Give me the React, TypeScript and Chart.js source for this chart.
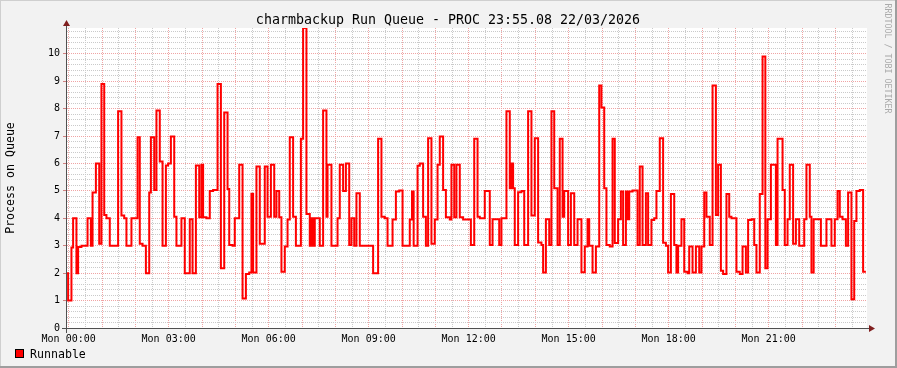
import React, { useEffect, useRef } from 'react';
import { Chart, registerables } from 'chart.js';

Chart.register(...registerables);

const TITLE = 'charmbackup Run Queue - PROC 23:55.08 22/03/2026';
const Y_TITLE = 'Process on Queue';
const SERIES_NAME = 'Runnable';
const WATERMARK = 'RRDTOOL / TOBI OETIKER';
const DAY = 'Mon';

// x-axis: minutes since Mon 00:00 (window starts just before midnight)
const X_MIN = -3;
const X_MAX = 1437;
const Y_MAX = 10.94;

// minutes at which the run-queue value changes
const times = [
  -3, -1, 5, 8, 14, 17, 23, 34,
  40, 43, 49, 55, 59, 64, 68, 74,
  89, 95, 100, 104, 113, 124, 128, 133,
  139, 145, 148, 154, 158, 164, 169, 175,
  179, 184, 190, 194, 203, 209, 218, 223,
  229, 235, 239, 242, 248, 254, 260, 268,
  274, 280, 286, 289, 295, 299, 307, 313,
  319, 325, 329, 332, 338, 344, 353, 358,
  364, 370, 374, 379, 383, 389, 394, 398,
  404, 409, 418, 422, 428, 434, 437, 440,
  443, 452, 458, 464, 466, 473, 484, 488,
  494, 499, 505, 509, 514, 518, 524, 548,
  557, 563, 569, 574, 583, 589, 595, 601,
  614, 618, 621, 628, 632, 638, 643, 647,
  653, 659, 664, 668, 674, 679, 686, 689,
  694, 698, 704, 710, 724, 730, 736, 740,
  749, 758, 763, 775, 779, 788, 794, 797,
  800, 803, 809, 815, 820, 827, 833, 839,
  845, 851, 854, 859, 865, 869, 874, 880,
  884, 889, 892, 899, 904, 910, 916, 923,
  929, 934, 937, 943, 949, 955, 959, 964,
  968, 974, 979, 983, 989, 994, 998, 1003,
  1006, 1009, 1015, 1024, 1028, 1033, 1039, 1043,
  1049, 1054, 1058, 1064, 1070, 1075, 1079, 1084,
  1090, 1094, 1097, 1103, 1108, 1114, 1117, 1123,
  1129, 1135, 1139, 1144, 1148, 1154, 1159, 1165,
  1169, 1174, 1178, 1184, 1189, 1193, 1202, 1208,
  1213, 1219, 1223, 1229, 1234, 1238, 1244, 1249,
  1254, 1258, 1264, 1273, 1276, 1285, 1289, 1294,
  1298, 1304, 1309, 1315, 1324, 1328, 1334, 1337,
  1341, 1354, 1364, 1373, 1379, 1384, 1388, 1393,
  1399, 1403, 1409, 1414, 1418, 1424, 1430, 1435,
];

// run-queue value from that minute on
const values = [
  2.0, 1.0, 2.94, 4.0, 2.0, 2.95, 3.0, 4.0,
  3.0, 4.94, 6.0, 3.07, 8.9, 4.12, 4.0, 3.0,
  7.9, 4.1, 4.0, 3.0, 4.0, 6.96, 3.07, 3.0,
  2.0, 4.94, 6.96, 5.03, 7.93, 6.07, 3.0, 5.93,
  6.0, 6.98, 4.06, 3.0, 4.0, 2.0, 3.97, 2.0,
  5.93, 4.04, 5.95, 4.04, 4.0, 5.0, 5.03, 8.9,
  2.18, 7.86, 5.07, 3.03, 3.0, 4.0, 5.95, 1.08,
  1.97, 2.02, 4.9, 2.02, 5.89, 3.07, 5.89, 4.06,
  5.95, 4.06, 5.0, 4.04, 2.05, 2.97, 3.96, 6.96,
  4.06, 3.0, 6.9, 10.94, 4.16, 3.0, 4.0, 3.0,
  4.0, 3.0, 7.93, 4.06, 5.95, 3.0, 4.0, 5.95,
  5.0, 6.0, 3.03, 4.0, 3.0, 4.91, 3.0, 2.0,
  6.9, 4.06, 4.0, 3.0, 3.96, 4.98, 5.01, 3.0,
  3.96, 4.98, 3.0, 5.92, 6.0, 4.06, 3.0, 6.92,
  3.07, 3.96, 5.95, 6.98, 5.03, 4.04, 3.96, 5.95,
  4.04, 5.95, 4.04, 3.96, 3.03, 6.9, 4.06, 4.0,
  5.0, 3.03, 3.97, 3.03, 4.0, 7.9, 5.1, 6.0,
  5.1, 3.03, 4.95, 5.0, 3.03, 7.9, 4.1, 6.92,
  3.12, 3.03, 2.02, 3.97, 3.03, 7.9, 5.1, 3.03,
  6.9, 4.06, 5.0, 3.03, 4.91, 3.03, 3.97, 2.03,
  2.97, 3.97, 3.0, 2.02, 2.97, 8.84, 8.04, 5.1,
  3.03, 2.97, 6.9, 3.1, 3.97, 4.98, 3.03, 4.98,
  3.97, 4.98, 5.01, 3.03, 5.89, 3.03, 4.91, 3.03,
  3.94, 4.0, 5.0, 6.92, 3.11, 3.0, 2.02, 4.89,
  3.03, 2.02, 3.0, 3.97, 2.05, 2.0, 2.97, 2.02,
  2.97, 2.02, 2.97, 4.94, 4.06, 3.03, 8.84, 4.12,
  5.95, 2.09, 1.97, 4.89, 4.06, 4.0, 2.05, 1.97,
  2.97, 2.02, 3.94, 3.97, 3.03, 2.02, 4.89, 9.9,
  2.18, 3.97, 5.95, 3.03, 6.9, 5.03, 3.03, 3.97,
  5.95, 3.07, 3.97, 3.0, 3.97, 5.95, 4.06, 2.02,
  3.97, 3.0, 3.97, 3.0, 3.97, 5.0, 4.06, 3.97,
  3.0, 4.94, 1.05, 3.9, 5.0, 5.03, 2.05, 2.05,
];

// labelled x positions (minutes) and their texts
const xLabelMinutes = [0, 180, 360, 540, 720, 900, 1080, 1260];
const xLabelTexts = ['00:00', '03:00', '06:00', '09:00', '12:00', '15:00', '18:00', '21:00'];

const MONO = '"DejaVu Sans Mono", monospace';
const MINOR_GRID = '#cacaca';
const MAJOR_GRID = '#f0a4a4';

export default function App() {
  const ref = useRef<HTMLCanvasElement | null>(null);

  useEffect(() => {
    const canvas = ref.current;
    if (!canvas) return;
    const points = times.map((t, i) => ({ x: t, y: values[i] }));
    const isInt = (v: number) => Math.abs(v - Math.round(v)) < 1e-6;

    const decor = {
      id: 'rrdDecor',
      beforeDraw(chart: any) {
        const { ctx, width, height, chartArea: a } = chart;
        ctx.save();
        ctx.fillStyle = '#f2f2f2';
        ctx.fillRect(0, 0, width, height);
        ctx.fillStyle = '#cfcfcf';
        ctx.fillRect(0, 0, width, 1);
        ctx.fillRect(0, 0, 1, height);
        ctx.fillStyle = '#9e9e9e';
        ctx.fillRect(0, height - 2, width, 2);
        ctx.fillRect(width - 2, 0, 2, height);
        ctx.fillStyle = '#ffffff';
        ctx.fillRect(a.left, a.top, a.right - a.left, a.bottom - a.top);
        ctx.restore();
      },
      afterDraw(chart: any) {
        const { ctx, chartArea: a } = chart;
        ctx.save();
        // axes
        ctx.strokeStyle = '#505050';
        ctx.lineWidth = 1;
        ctx.beginPath();
        ctx.moveTo(a.left - 0.5, a.bottom + 5);
        ctx.lineTo(a.left - 0.5, a.top - 3);
        ctx.moveTo(a.left - 5, a.bottom + 0.5);
        ctx.lineTo(a.right + 3, a.bottom + 0.5);
        ctx.stroke();
        // arrows
        ctx.fillStyle = '#801f1f';
        ctx.beginPath();
        ctx.moveTo(a.left - 0.5, a.top - 8);
        ctx.lineTo(a.left + 3, a.top - 2);
        ctx.lineTo(a.left - 4, a.top - 2);
        ctx.closePath();
        ctx.fill();
        ctx.beginPath();
        ctx.moveTo(a.right + 8, a.bottom + 0.5);
        ctx.lineTo(a.right + 2, a.bottom + 4);
        ctx.lineTo(a.right + 2, a.bottom - 3);
        ctx.closePath();
        ctx.fill();
        // title
        ctx.fillStyle = '#000';
        ctx.font = `13.3px ${MONO}`;
        ctx.textAlign = 'center';
        ctx.textBaseline = 'alphabetic';
        ctx.fillText(TITLE, 448, 24);
        // legend
        ctx.fillStyle = '#ff0000';
        ctx.fillRect(15, 349, 9, 9);
        ctx.strokeStyle = '#000';
        ctx.strokeRect(15.5, 349.5, 8, 8);
        ctx.fillStyle = '#000';
        ctx.font = `11.6px ${MONO}`;
        ctx.textAlign = 'left';
        ctx.fillText(SERIES_NAME, 30, 358);
        // watermark
        ctx.translate(884.5, 3.5);
        ctx.rotate(Math.PI / 2);
        ctx.fillStyle = '#ababab';
        ctx.font = `8.3px ${MONO}`;
        ctx.textAlign = 'left';
        ctx.fillText(WATERMARK, 0, 0);
        ctx.restore();
      },
    };

    const chart = new Chart(canvas, {
      type: 'line',
      data: {
        datasets: [
          {
            label: SERIES_NAME,
            data: points,
            stepped: 'before',
            borderColor: '#ff0000',
            borderWidth: 2,
            pointRadius: 0,
            fill: false,
            tension: 0,
          },
        ],
      },
      options: {
        responsive: false,
        animation: false,
        devicePixelRatio: 1,
        events: [],
        layout: { padding: { left: 0, top: 28, right: 30, bottom: 0 } },
        plugins: { legend: { display: false }, tooltip: { enabled: false }, title: { display: false } },
        scales: {
          x: {
            type: 'linear',
            min: X_MIN,
            max: X_MAX,
            afterBuildTicks: (scale: any) => {
              const ticks = [];
              for (let m = 0; m < X_MAX; m += 30) ticks.push({ value: m });
              scale.ticks = ticks;
            },
            afterFit: (scale: any) => {
              scale.height = 40;
            },
            ticks: {
              autoSkip: false,
              maxRotation: 0,
              minRotation: 0,
              padding: 5,
              color: '#000',
              font: { family: MONO, size: 10 },
              callback: (v: any) => {
                const i = xLabelMinutes.indexOf(Number(v));
                return i >= 0 ? `${DAY} ${xLabelTexts[i]}` : '';
              },
            },
            grid: {
              drawTicks: false,
              lineWidth: 1,
              color: (c: any) => (c.tick && c.tick.value % 60 === 0 ? MAJOR_GRID : MINOR_GRID),
            },
            border: { display: false, dash: [1, 1] },
          },
          y: {
            type: 'linear',
            min: 0,
            max: Y_MAX,
            afterBuildTicks: (scale: any) => {
              const ticks = [];
              for (let k = 0; k * 0.2 <= Y_MAX; k++) ticks.push({ value: Math.round(k * 2) / 10 });
              scale.ticks = ticks;
            },
            afterFit: (scale: any) => {
              scale.width = 67;
            },
            ticks: {
              autoSkip: false,
              padding: 3,
              color: '#000',
              font: { family: MONO, size: 10 },
              callback: (v: any) => (isInt(Number(v)) ? String(Math.round(Number(v))) : ''),
            },
            grid: {
              drawTicks: true,
              tickLength: 4,
              lineWidth: 1,
              tickColor: (c: any) => (c.tick && isInt(c.tick.value) ? '#d08080' : 'rgba(0,0,0,0)'),
              color: (c: any) => (c.tick && isInt(c.tick.value) ? MAJOR_GRID : MINOR_GRID),
            },
            border: { display: false, dash: [1, 1] },
            title: {
              display: true,
              text: Y_TITLE,
              color: '#000',
              font: { family: MONO, size: 11.6 },
              padding: { top: 4, bottom: 4 },
            },
          },
        },
      },
      plugins: [decor],
    } as any);

    return () => chart.destroy();
  }, []);

  return (
    <div style={{ position: 'fixed', left: 0, top: 0, width: 897, height: 368 }}>
      <canvas ref={ref} width={897} height={368} style={{ display: 'block', width: 897, height: 368 }} />
    </div>
  );
}
